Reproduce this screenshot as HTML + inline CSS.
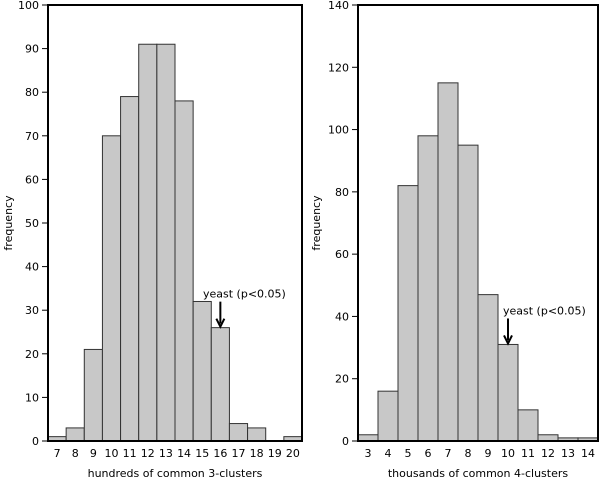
<!DOCTYPE html>
<html><head><meta charset="utf-8"><style>
body{margin:0;background:#fff;}
svg text{font-family:"DejaVu Sans","Liberation Sans",sans-serif;font-size:11px;fill:#000;}
</style></head><body>
<svg id="c" width="600" height="481"></svg>
<script>
const leftCats=[7,8,9,10,11,12,13,14,15,16,17,18,19,20];
const leftVals=[1,3,21,70,79,91,91,78,32,26,4,3,0,1];
const leftTicks=[0,10,20,30,40,50,60,70,80,90,100];
const rightCats=[3,4,5,6,7,8,9,10,11,12,13,14];
const rightVals=[2,16,82,98,115,95,47,31,10,2,1,1];
const rightTicks=[0,20,40,60,80,100,120,140];
const svg=document.getElementById('c');
const NS='http://www.w3.org/2000/svg';
function mk(t,a,p){const e=document.createElementNS(NS,t);for(const k in a)e.setAttribute(k,a[k]);(p||svg).appendChild(e);return e;}
function panel(o){
  const g=mk('g',{});
  
  
  const y=v=>o.y1-(v/o.ymax)*(o.y1-o.y0);
  const bw=(o.x1-o.x0)/o.cats.length;
  const x=i=>o.x0+i*bw;
  o.vals.forEach((v,i)=>{
    const r=mk('rect',{x:x(i),y:y(v),width:bw,height:o.y1-y(v),fill:'#c8c8c8',stroke:'#333','stroke-width':1},g);
    
    
    const t=mk('text',{x:x(i)+bw/2,y:o.y1+16,'text-anchor':'middle'},g);t.textContent=o.cats[i];
    
    
  });
  o.ticks.forEach(v=>{
    mk('line',{x1:o.x0-6,x2:o.x0,y1:y(v),y2:y(v),stroke:'#000'},g);
    const t=mk('text',{x:o.x0-9,y:y(v)+4,'text-anchor':'end'},g);t.textContent=v;
    
    
  });
  const f=mk('rect',{x:o.x0,y:o.y0,width:o.x1-o.x0,height:o.y1-o.y0,fill:'none',stroke:'#000','stroke-width':2},g);
  
  
  const yl=mk('text',{x:0,y:0,transform:`translate(${o.ylx},${(o.y0+o.y1)/2}) rotate(-90)`,'text-anchor':'middle'},g);yl.textContent='frequency';
  
  
  const xl=mk('text',{x:(o.x0+o.x1)/2,y:o.y1+36,'text-anchor':'middle'},g);xl.textContent=o.xlabel;
  
  
  const i=o.cats.indexOf(o.mark),ax=x(i)+bw/2,top=y(o.vals[i]);
  const at=mk('text',{x:o.tx,y:top-30},g);at.textContent='yeast (p<0.05)';
  
  
  mk('line',{x1:ax,x2:ax,y1:top-26,y2:top-4,stroke:'#000','stroke-width':2},g);
  mk('path',{d:`M${ax-4},${top-9} L${ax},${top-1} L${ax+4},${top-9}`,fill:'none',stroke:'#000','stroke-width':2},g);
}
panel({name:'left-histogram',cats:leftCats,vals:leftVals,ticks:leftTicks,ymax:100,x0:48,x1:302,y0:5,y1:441,ylx:12,xlabel:'hundreds of common 3-clusters',mark:16,tx:203});
panel({name:'right-histogram',cats:rightCats,vals:rightVals,ticks:rightTicks,ymax:140,x0:358,x1:598,y0:5,y1:441,ylx:320,xlabel:'thousands of common 4-clusters',mark:10,tx:503});
</script>
</body></html>
